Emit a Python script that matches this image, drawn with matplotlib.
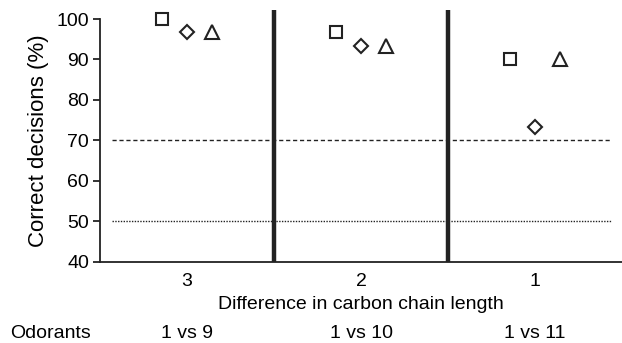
import matplotlib
matplotlib.use("Agg")
import matplotlib.pyplot as plt

plt.rcParams['font.family'] = ['Liberation Sans', 'DejaVu Sans']

categories = ["3", "2", "1"]
odorants = ["1 vs 9", "1 vs 10", "1 vs 11"]
square_vals = [100.0, 96.7, 90.0]
diamond_vals = [96.7, 93.3, 73.3]
triangle_vals = [96.7, 93.3, 90.0]

fig = plt.figure(figsize=(6.22, 3.43), dpi=100)
ax = fig.add_axes([0.1608, 0.2362, 0.8392, 0.7084])

pos = list(range(1, len(categories) + 1))
off = 0.145
ax.plot([p - off for p in pos], square_vals, linestyle='none', marker='s', markersize=8,
        markerfacecolor='white', markeredgecolor='#222222', markeredgewidth=1.5, clip_on=False, zorder=5)
ax.plot(pos, diamond_vals, linestyle='none', marker='D', markersize=7,
        markerfacecolor='white', markeredgecolor='#222222', markeredgewidth=1.5, clip_on=False, zorder=5)
ax.plot([p + off for p in pos], triangle_vals, linestyle='none', marker='^', markersize=10,
        markerfacecolor='white', markeredgecolor='#222222', markeredgewidth=1.5, clip_on=False, zorder=5)

ax.set_xlim(0.5, 3.5)
ax.set_ylim(40, 100)

ax.plot([0.57, 3.44], [70, 70], linestyle=(0, (3, 2)), color='#222222', lw=1.0)
ax.plot([0.57, 3.44], [50, 50], linestyle=(0, (1, 1)), color='#222222', lw=1.0)

for xv in [1.5, 2.5]:
    ax.plot([xv, xv], [40, 102.3], color='#222222', lw=3.2, clip_on=False, zorder=4,
            solid_capstyle='butt')

ax.spines['top'].set_visible(False)
ax.spines['right'].set_visible(False)
ax.spines['left'].set_color('#222222')
ax.spines['bottom'].set_color('#222222')
ax.spines['left'].set_linewidth(1.3)
ax.spines['bottom'].set_linewidth(1.3)

ax.set_yticks([40, 50, 60, 70, 80, 90, 100])
ax.tick_params(axis='y', direction='out', length=5, width=1.3, labelsize=14, pad=3, color='#222222')
ax.set_xticks(pos)
ax.set_xticklabels(categories)
ax.tick_params(axis='x', length=0, labelsize=14, pad=8)

ax.set_ylabel("Correct decisions (%)", fontsize=16, labelpad=5)
ax.set_xlabel("Difference in carbon chain length", fontsize=14, labelpad=4)

fig.text(10 / 622, 1 - 333 / 343, "Odorants", fontsize=14, va='center', ha='left')
for p, lab in zip(pos, odorants):
    xf = ax.transData.transform((p, 40))[0] / fig.bbox.width
    fig.text(xf, 1 - 333 / 343, lab, fontsize=14, va='center', ha='center')

fig.savefig("out.png", dpi=100)
